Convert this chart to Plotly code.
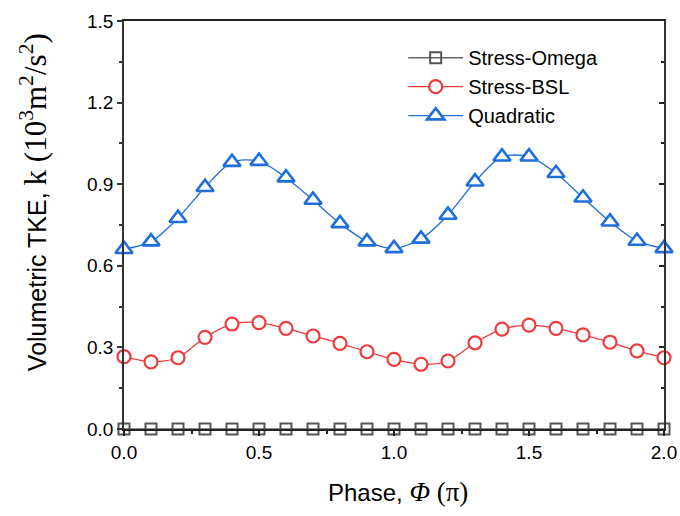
import plotly.graph_objects as go

# Phase in units of pi
phase = [0.0, 0.1, 0.2, 0.3, 0.4, 0.5, 0.6, 0.7, 0.8, 0.9, 1.0,
         1.1, 1.2, 1.3, 1.4, 1.5, 1.6, 1.7, 1.8, 1.9, 2.0]

# Volumetric TKE (10^3 m^2/s^2) for each turbulence model
stress_omega = [0.0] * 21
stress_bsl = [0.266, 0.247, 0.262, 0.337, 0.386, 0.391, 0.370, 0.342, 0.315, 0.284, 0.256,
              0.238, 0.250, 0.317, 0.367, 0.382, 0.370, 0.346, 0.319, 0.287, 0.262]
quadratic = [0.661, 0.689, 0.775, 0.889, 0.981, 0.985, 0.924, 0.842, 0.756, 0.689, 0.664,
             0.699, 0.787, 0.909, 1.001, 1.001, 0.940, 0.850, 0.762, 0.691, 0.664]

x_ticks = [0.0, 0.5, 1.0, 1.5, 2.0]
y_ticks = [0.0, 0.3, 0.6, 0.9, 1.2, 1.5]

GRAY = "#555555"
RED = "#EE3B3B"
BLUE = "#1E6FDC"
SANS = "Liberation Sans, Arial, sans-serif"
SERIF = "Liberation Serif, Times New Roman, serif"

fig = go.Figure()

fig.add_trace(go.Scatter(
    x=phase, y=stress_omega, name="Stress-Omega", mode="lines+markers",
    line=dict(color="#666666", width=1.5, shape="spline", smoothing=0.8),
    marker=dict(symbol="square-open", size=11, color=GRAY, line=dict(width=2, color=GRAY)),
    cliponaxis=False,
))
fig.add_trace(go.Scatter(
    x=phase, y=stress_bsl, name="Stress-BSL", mode="lines+markers",
    line=dict(color=RED, width=1.3, shape="spline", smoothing=0.8),
    marker=dict(symbol="circle", size=13, color="white", line=dict(width=2.2, color=RED)),
    cliponaxis=False,
))
fig.add_trace(go.Scatter(
    x=phase, y=quadratic, name="Quadratic", mode="lines+markers",
    line=dict(color=BLUE, width=1.3, shape="spline", smoothing=0.8),
    marker=dict(symbol="triangle-up", size=15, color="white", line=dict(width=2.6, color=BLUE)),
    cliponaxis=False,
))
# right-hand axis carrying the inward ticks
fig.add_trace(go.Scatter(x=[], y=[], yaxis="y2", showlegend=False, hoverinfo="skip"))

fig.update_layout(
    width=680, height=516,
    margin=dict(l=124, r=16, t=21, b=87, autoexpand=False),
    paper_bgcolor="white", plot_bgcolor="white",
    font=dict(family=SANS, size=19, color="black"),
    showlegend=True,
    legend=dict(x=0.517, y=0.958, xanchor="left", yanchor="top",
                bgcolor="rgba(0,0,0,0)", font=dict(size=20, family=SANS),
                itemwidth=55, tracegroupgap=0),
    xaxis=dict(
        range=[0, 2.0], tickvals=x_ticks, ticktext=[f"{v:.1f}" for v in x_ticks],
        showline=True, linecolor="#222222", linewidth=1.5, mirror=True,
        ticks="outside", ticklen=5, tickwidth=1.5, tickcolor="#222222",
        minor=dict(ticks="outside", ticklen=3, dtick=0.25, tickwidth=1.5, tickcolor="#222222"),
        showgrid=False, zeroline=False, tickfont=dict(size=19),
    ),
    yaxis=dict(
        range=[0, 1.5], tickvals=y_ticks, ticktext=[f"{v:.1f}" for v in y_ticks],
        showline=True, linecolor="#333333", linewidth=1.5, mirror=True,
        ticks="outside", ticklen=5, tickwidth=1.5, tickcolor="#333333",
        minor=dict(ticks="outside", ticklen=3, dtick=0.15, tickwidth=1.5, tickcolor="#333333"),
        showgrid=False, zeroline=False, tickfont=dict(size=19),
    ),
    yaxis2=dict(
        overlaying="y", side="right", range=[0, 1.5], tickvals=y_ticks,
        showticklabels=False, showline=False,
        ticks="inside", ticklen=5, tickwidth=1.5, tickcolor="#222222",
        minor=dict(ticks="inside", ticklen=3, dtick=0.15, tickwidth=1.5, tickcolor="#222222"),
        showgrid=False, zeroline=False,
    ),
    annotations=[
        dict(
            text=(f'<span style="font-family:{SANS}">Volumetric TKE, </span>'
                  f'<span style="font-family:{SERIF};font-size:31px">k (10<sup>3</sup>m<sup>2</sup>/s<sup>2</sup>)</span>'),
            xref="paper", yref="paper", x=-0.1685, y=0.556,
            xanchor="center", yanchor="middle", textangle=-90,
            showarrow=False, font=dict(size=25, family=SANS),
        ),
        dict(
            text=(f'<span style="font-family:{SANS}">Phase, </span>'
                  f'<span style="font-family:{SERIF};font-size:27px"><i>Φ</i> (π)</span>'),
            xref="paper", yref="paper", x=0.507, y=-0.154,
            xanchor="center", yanchor="middle",
            showarrow=False, font=dict(size=24, family=SANS),
        ),
    ],
)

fig.write_html("out.html")
